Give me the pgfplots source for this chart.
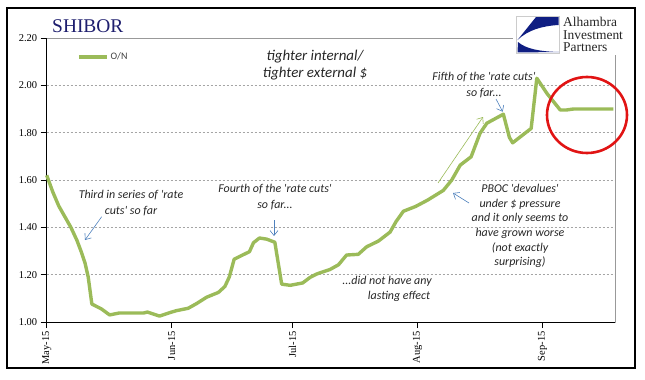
\documentclass[border=0pt]{standalone}
\usepackage{pgfplots}
\pgfplotsset{compat=1.18}
\usepackage{fontspec}
\setmainfont{Liberation Serif}
\newfontfamily\calibri{Carlito}
\usetikzlibrary{arrows.meta}
\definecolor{olive}{RGB}{155,187,89}
\definecolor{navy}{RGB}{30,30,110}
\definecolor{arrowblue}{RGB}{79,129,189}
\definecolor{gridgray}{RGB}{165,165,165}
\definecolor{logoblue}{RGB}{15,30,130}
\definecolor{circred}{RGB}{225,20,20}
\begin{document}
\begin{tikzpicture}
\begin{scope}[shift={(-46.7bp,322bp)}, x=1bp, y=-1bp]
\path[use as bounding box] (0,0) rectangle (645,379);
\end{scope}
\begin{axis}[
  at={(0,0)}, anchor=south west, scale only axis,
  width=568.3bp, height=284bp,
  xmin=0, xmax=141, ymin=1, ymax=2.2,
  clip=false,
  axis x line*=bottom, axis y line*=left,
  axis line style={black, line width=0.8bp, -},
  tick align=outside, major tick length=6bp,
  tick style={black, line width=0.6bp},
  xtick={0,31,61,92,123},
  xticklabels={May-15,Jun-15,Jul-15,Aug-15,Sep-15},
  xticklabel style={rotate=90, anchor=east, font=\fontsize{10.5}{12}\selectfont},
  ytick={1,1.2,1.4,1.6,1.8,2.0,2.2},
  /pgf/number format/fixed, /pgf/number format/fixed zerofill,
  /pgf/number format/precision=2, /pgf/number format/assume math mode=true,
  yticklabel style={font=\fontsize{10.5}{12}\selectfont},
  ymajorgrids, grid style={gridgray, line width=0.5bp, dash pattern=on 2bp off 2bp},
  legend style={draw=none, fill=none, at={(0.0533,0.933)}, anchor=west, inner sep=0pt,
    font=\calibri\fontsize{10}{12}\selectfont, text=black!75},
  legend image code/.code={\draw[#1] (0bp,0bp) -- (28bp,0bp);},
]
\draw[gray!80, line width=0.6bp] (rel axis cs:0,1) -- (rel axis cs:1,1) -- (rel axis cs:1,0);
\addplot[olive, line width=3.4bp, line join=round] coordinates {
(0,1.62) (1.5,1.55) (3,1.49) (4.5,1.445) (6,1.40) (7.5,1.345) (8.5,1.30) (9.5,1.25)
(10.3,1.19) (11.2,1.076) (13.6,1.055) (15.6,1.03) (18,1.038) (21,1.038) (24,1.038)
(25,1.042) (28,1.025) (30.6,1.04) (32.2,1.048) (35.1,1.058) (37.2,1.078) (39.7,1.105)
(42.6,1.125) (44.2,1.15) (45.3,1.19) (46.5,1.265) (48.6,1.283) (50.3,1.297) (51.3,1.335)
(52.8,1.355) (54.6,1.35) (56.6,1.337) (58.3,1.16) (60.4,1.155) (63.5,1.165) (65.3,1.188)
(67,1.203) (70.3,1.222) (72.4,1.242) (74.4,1.283) (77.3,1.286) (79.4,1.318) (82.3,1.342)
(85.2,1.38) (86.7,1.425) (88.5,1.468) (91.5,1.488) (94.5,1.515) (98.4,1.556) (100.5,1.60)
(102.6,1.663) (105.3,1.698) (107.5,1.797) (109.2,1.84) (113.3,1.878) (114.8,1.78)
(115.6,1.757) (120.2,1.818) (121.6,2.03) (124.1,1.966) (127.4,1.896) (129,1.896)
(130.7,1.90) (140.6,1.90)
};
\addlegendentry{O/N}
\end{axis}
\begin{scope}[shift={(-46.7bp,322bp)}, x=1bp, y=-1bp]
% outer frame
\draw[black, line width=1.1bp] (7,8) rectangle (635,368);
% title
\node[anchor=base west, inner sep=0pt, text=navy, font=\fontsize{19.5}{22}\selectfont] at (52,32) {SHIBOR};
% logo
\fill[white] (513,12) rectangle (633,55);
\draw[gray!40, line width=0.6bp] (516.5,16) rectangle (559.5,53);
\fill[logoblue] (558.5,17) -- (536,17) -- (517.5,40) .. controls (528,30) and (542,26) .. (558.5,25) -- cycle;
\fill[logoblue] (518,42) .. controls (526,49) and (540,51.5) .. (559,52) -- (517.5,52.5) -- cycle;
\begin{scope}[every node/.style={anchor=base west, inner sep=0pt, text=black!85, font=\fontsize{13.5}{14}\selectfont}]
\node at (563,26.5) {Alhambra};
\node at (563,39) {Investment};
\node at (563,51.5) {Partners};
\end{scope}
% annotations
\begin{scope}[every node/.style={align=center, inner sep=0pt, text=black!85, font=\calibri\itshape\fontsize{12}{15.5}\selectfont}]
\node[font=\calibri\itshape\fontsize{15}{17}\selectfont] at (315,65) {tighter internal/\\tighter external \$};
\node at (131,203) {Third in series of 'rate\\cuts' so far};
\node at (275,197) {Fourth of the 'rate cuts'\\so far...};
\node at (387,281) {...did not have any};
\node at (399,296) {lasting effect};
\node[font=\calibri\itshape\fontsize{12}{14.8}\selectfont] at (520,226) {PBOC 'devalues'\\under \$ pressure\\and it only seems to\\have grown worse\\(not exactly\\surprising)};
\node at (484,85) {Fifth of the 'rate cuts'\\so far...};
\end{scope}
\begin{scope}[arrowblue, line width=0.6bp, -{Straight Barb[length=5bp, width=8bp]}]
\draw (101.7,216.7) -- (85,240);
\draw (274,220) -- (274,236);
\draw (469,203) -- (453,193);
\draw (496,99) -- (502.7,111.7);
\end{scope}
\draw[olive, line width=0.6bp, -{Straight Barb[length=5bp, width=8bp]}] (438,183) -- (483,117);
\draw[circred, line width=2.6bp] (587,115) ellipse [x radius=40, y radius=38];
\end{scope}
\end{tikzpicture}
\end{document}
